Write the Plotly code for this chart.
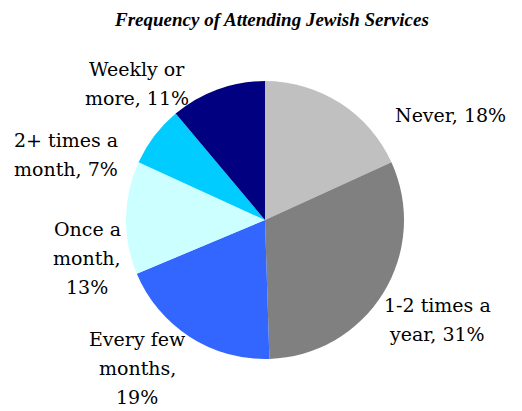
import plotly.graph_objects as go

title = "Frequency of Attending Jewish Services"
categories = ["Never", "1-2 times a year", "Every few months", "Once a month",
              "2+ times a month", "Weekly or more"]
values = [18, 31, 19, 13, 7, 11]
colors = ["#C0C0C0", "#808080", "#3366FF", "#CCFFFF", "#00CCFF", "#000080"]

# label line layout (how each category label wraps)
label_lines = [
    ["Never, {v}%"],
    ["1-2 times a", "year, {v}%"],
    ["Every few", "months,", "{v}%"],
    ["Once a", "month,", "{v}%"],
    ["2+ times a", "month, {v}%"],
    ["Weekly or", "more, {v}%"],
]
# label block centers in window pixels (x, y)
label_pos = [(450, 115), (437, 319), (137, 368), (87, 258), (66, 154), (137, 83)]

OFF = 8  # page body margin of the browser
W, H = 522 - OFF, 411 - OFF
cx, cy, r = 265 - OFF, 220 - OFF, 139

def px_x(x):
    return (x - OFF) / W

def px_y(y):
    return 1 - (y - OFF) / H

fig = go.Figure(go.Pie(
    labels=categories, values=values, sort=False, direction="clockwise",
    rotation=0, marker=dict(colors=colors, line=dict(width=0)),
    textinfo="none", hoverinfo="label+percent", showlegend=False,
    domain=dict(x=[(cx - r) / W, (cx + r) / W], y=[1 - (cy + r) / H, 1 - (cy - r) / H]),
))

font = dict(family="DejaVu Serif", size=19, color="#000000")
lh = 29
annotations = []
for lines, v, (px, py) in zip(label_lines, values, label_pos):
    n = len(lines)
    for i, ln in enumerate(lines):
        yy = py + (i - (n - 1) / 2) * lh
        annotations.append(dict(
            text=ln.format(v=v), x=px_x(px), y=px_y(yy), xref="paper", yref="paper",
            showarrow=False, xanchor="center", yanchor="middle", font=font))

annotations.append(dict(
    text="<b><i>" + title + "</i></b>", x=px_x(271), y=px_y(20), xref="paper", yref="paper",
    showarrow=False, xanchor="center", yanchor="middle",
    font=dict(family="Liberation Serif", size=19, color="#000000")))

fig.update_layout(
    width=W, height=H, margin=dict(l=0, r=0, t=0, b=0),
    paper_bgcolor="white", plot_bgcolor="white",
    annotations=annotations,
)
fig.write_html("out.html")
